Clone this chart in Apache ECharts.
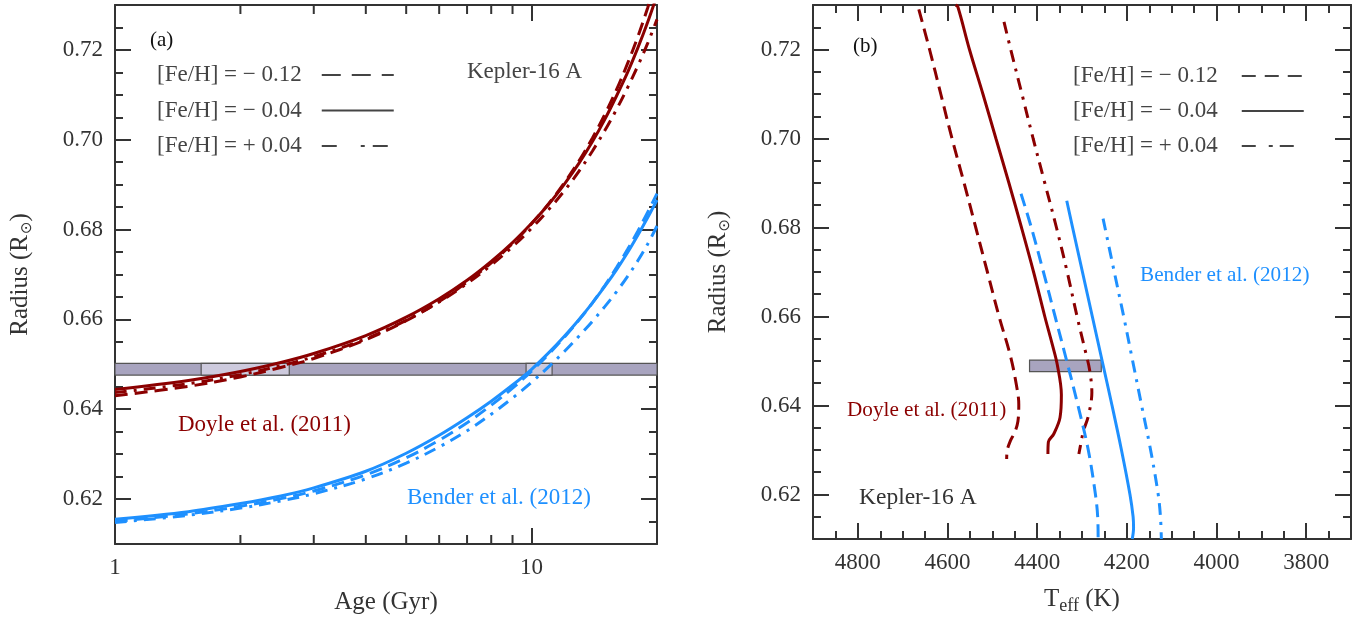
<!DOCTYPE html>
<html><head><meta charset="utf-8">
<script src="https://cdn.jsdelivr.net/npm/echarts@6/dist/echarts.min.js"></script>
<style>html,body{margin:0;padding:0;background:#fff}#c{width:1369px;height:620px}</style>
</head><body><div id="c"></div>
<script>
// ---------- Panel (a): radius vs age ----------
const ageGyr = [1, 1.5, 2, 2.5, 3, 4, 5, 6, 7, 8, 9, 10, 11, 12, 13, 14, 15, 16, 17, 18, 19, 20];
const doyleRadiusFeM012 = [0.6430, 0.6451, 0.6472, 0.6493, 0.6513, 0.6555, 0.6597, 0.6640, 0.6683, 0.6726, 0.6769, 0.6813, 0.6858, 0.6905, 0.6953, 0.7004, 0.7057, 0.7112, 0.7170, 0.7230, 0.7294, 0.7360];
const doyleRadiusFeM004 = [0.6444, 0.6464, 0.6484, 0.6504, 0.6524, 0.6564, 0.6605, 0.6646, 0.6687, 0.6729, 0.6771, 0.6814, 0.6857, 0.6902, 0.6948, 0.6996, 0.7046, 0.7098, 0.7150, 0.7205, 0.7262, 0.7322];
const doyleRadiusFeP004 = [0.6437, 0.6457, 0.6477, 0.6497, 0.6517, 0.6557, 0.6598, 0.6639, 0.6680, 0.6721, 0.6762, 0.6803, 0.6845, 0.6887, 0.6930, 0.6975, 0.7021, 0.7068, 0.7116, 0.7165, 0.7215, 0.7268];
const benderRadiusFeM012 = [0.6150, 0.6167, 0.6184, 0.6201, 0.6218, 0.6254, 0.6292, 0.6331, 0.6370, 0.6409, 0.6447, 0.6485, 0.6523, 0.6561, 0.6599, 0.6637, 0.6676, 0.6716, 0.6756, 0.6797, 0.6839, 0.6880];
const benderRadiusFeM004 = [0.6155, 0.6172, 0.6190, 0.6207, 0.6225, 0.6262, 0.6302, 0.6342, 0.6381, 0.6418, 0.6454, 0.6489, 0.6526, 0.6563, 0.6600, 0.6637, 0.6674, 0.6711, 0.6749, 0.6788, 0.6827, 0.6866];
const benderRadiusFeP004 = [0.6148, 0.6164, 0.6180, 0.6196, 0.6212, 0.6245, 0.6280, 0.6316, 0.6352, 0.6389, 0.6425, 0.6460, 0.6495, 0.6529, 0.6563, 0.6596, 0.6629, 0.6662, 0.6696, 0.6731, 0.6768, 0.6808];

// observed radius band and highlighted age ranges
const bandRadius = [0.6476, 0.6502];
const bandAgeFull = [1, 20];
const bandAgeLight = [[1.61, 2.62], [9.7, 11.2]];
const bandTeff = [4417, 4257];

// ---------- Panel (b): radius vs Teff ----------
const doyleTrackM012R = [0.729, 0.72, 0.71, 0.70, 0.69, 0.68, 0.67, 0.66, 0.6513, 0.645, 0.6402, 0.6364, 0.634, 0.632, 0.6298, 0.628];
const doyleTrackM012T = [4664, 4640, 4615, 4590, 4563, 4537, 4511, 4485, 4460, 4447, 4441, 4443, 4450, 4460, 4467, 4468];
const doyleTrackM004R = [0.7300, 0.7296, 0.72, 0.71, 0.70, 0.69, 0.68, 0.67, 0.66, 0.6536, 0.6491, 0.6424, 0.6373, 0.6336, 0.6318, 0.6291];
const doyleTrackM004T = [4582, 4577, 4551, 4521, 4492, 4463, 4435, 4408, 4383, 4366, 4355, 4346, 4349, 4363, 4375, 4376];
const doyleTrackP004R = [0.7262, 0.72, 0.71, 0.70, 0.69, 0.68, 0.67, 0.66, 0.652, 0.648, 0.6429, 0.6376, 0.6342, 0.6307, 0.6291];
const doyleTrackP004T = [4474, 4459, 4434, 4409, 4383, 4357, 4333, 4311, 4292, 4283, 4278, 4286, 4297, 4304, 4307];
const benderTrackM012R = [0.6876, 0.68, 0.67, 0.66, 0.65, 0.64, 0.63, 0.62, 0.615, 0.61];
const benderTrackM012T = [4436, 4413, 4386, 4360, 4334, 4309, 4286, 4270, 4265, 4264];
const benderTrackM004R = [0.686, 0.68, 0.67, 0.66, 0.65, 0.64, 0.63, 0.62, 0.615, 0.6125, 0.61];
const benderTrackM004T = [4334, 4321, 4299, 4277, 4255, 4233, 4212, 4193, 4186, 4185, 4188];
const benderTrackP004R = [0.682, 0.67, 0.66, 0.65, 0.64, 0.63, 0.62, 0.615, 0.61];
const benderTrackP004T = [4253, 4228, 4207, 4187, 4167, 4147, 4130, 4125, 4123];

// ---------- ticks & labels ----------
const ageMinorTicks = [2, 3, 4, 5, 6, 7, 8, 9];
const ageLabels = [1, 10];
const radiusMajorTicks = [0.62, 0.64, 0.66, 0.68, 0.70, 0.72];
const radiusMinorTicks = [0.615, 0.625, 0.63, 0.635, 0.645, 0.65, 0.655, 0.665, 0.67, 0.675, 0.685, 0.69, 0.695, 0.705, 0.71, 0.715, 0.725];
const teffMajorTicks = [3800, 4000, 4200, 4400, 4600, 4800];
const teffMinorTicks = [3750, 3850, 3900, 3950, 4050, 4100, 4150, 4250, 4300, 4350, 4450, 4500, 4550, 4650, 4700, 4750, 4850];
const legendNames = ['[Fe/H] = \u2212 0.12', '[Fe/H] = \u2212 0.04', '[Fe/H] = + 0.04'];

const SERIF = '"Liberation Serif", "DejaVu Serif", serif';
const RED = '#8b0000', BLUE = '#1e90ff', AXC = '#333';
const DASH = [13, 7], DASHDOT = [12, 7, 3, 7];
const R_MIN = 0.61, R_MAX = 0.73;
const TICK_FONT = 23, NAME_FONT = 25;

function zip(a, b) { return a.map((v, i) => [v, b[i]]); }

function axisCommon(extra) {
  return Object.assign({
    splitLine: { show: false },
    axisLine: { show: true, onZero: false, lineStyle: { color: AXC, width: 2 } },
    axisTick: { show: true, inside: true, length: 16, lineStyle: { color: AXC, width: 2 } },
    axisLabel: { show: false },
    nameTextStyle: { fontFamily: SERIF, fontSize: NAME_FONT, color: AXC }
  }, extra);
}
const labelStyle = { fontFamily: SERIF, fontSize: TICK_FONT, color: AXC, margin: 12 };

function radiusAxes(grid) {
  return [
    axisCommon({ type: 'value', gridIndex: grid, position: 'left', min: R_MIN, max: R_MAX,
      axisTick: { show: true, inside: true, length: 16, customValues: radiusMajorTicks, lineStyle: { color: AXC, width: 2 } },
      axisLabel: Object.assign({ show: true, customValues: radiusMajorTicks, formatter: v => v.toFixed(2) }, labelStyle),
      name: 'Radius (R{s|\u2299})', nameLocation: 'middle', nameGap: 80, nameRotate: 90,
      nameTextStyle: { fontFamily: SERIF, fontSize: NAME_FONT, color: AXC,
        rich: { s: { fontFamily: '"DejaVu Sans", sans-serif', fontSize: 15, color: AXC, padding: [14, 0, 0, 1] } } } }),
    axisCommon({ type: 'value', gridIndex: grid, position: 'left', min: R_MIN, max: R_MAX,
      axisLine: { show: false },
      axisTick: { show: true, inside: true, length: 8, customValues: radiusMinorTicks, lineStyle: { color: AXC, width: 2 } } }),
    axisCommon({ type: 'value', gridIndex: grid, position: 'right', min: R_MIN, max: R_MAX,
      axisTick: { show: true, inside: true, length: 16, customValues: radiusMajorTicks, lineStyle: { color: AXC, width: 2 } } }),
    axisCommon({ type: 'value', gridIndex: grid, position: 'right', min: R_MIN, max: R_MAX,
      axisLine: { show: false },
      axisTick: { show: true, inside: true, length: 8, customValues: radiusMinorTicks, lineStyle: { color: AXC, width: 2 } } })
  ];
}

const isLabelAge = v => ageLabels.some(a => Math.abs(a - v) < 1e-6);

const xAxes = [
  axisCommon({ type: 'log', logBase: 10, gridIndex: 0, position: 'bottom', min: 1, max: 20,
    axisLabel: Object.assign({ show: true, formatter: v => isLabelAge(v) ? String(Math.round(v)) : '' }, labelStyle),
    name: 'Age (Gyr)', nameLocation: 'middle', nameGap: 46 }),
  axisCommon({ type: 'log', logBase: 10, gridIndex: 0, position: 'top', min: 1, max: 20 }),
  axisCommon({ type: 'value', gridIndex: 1, position: 'bottom', min: 3700, max: 4900, inverse: true,
    axisTick: { show: true, inside: true, length: 16, customValues: teffMajorTicks, lineStyle: { color: AXC, width: 2 } },
    axisLabel: Object.assign({ show: true, customValues: teffMajorTicks, formatter: v => String(Math.round(v)) }, labelStyle),
    name: 'T{s|eff} (K)', nameLocation: 'middle', nameGap: 45,
    nameTextStyle: { fontFamily: SERIF, fontSize: NAME_FONT, color: AXC,
      rich: { s: { fontFamily: SERIF, fontSize: 18, color: AXC, padding: [13, 0, 0, 0] } } } }),
  axisCommon({ type: 'value', gridIndex: 1, position: 'bottom', min: 3700, max: 4900, inverse: true,
    axisLine: { show: false },
    axisTick: { show: true, inside: true, length: 8, customValues: teffMinorTicks, lineStyle: { color: AXC, width: 2 } } }),
  axisCommon({ type: 'value', gridIndex: 1, position: 'top', min: 3700, max: 4900, inverse: true,
    axisTick: { show: true, inside: true, length: 16, customValues: teffMajorTicks, lineStyle: { color: AXC, width: 2 } } }),
  axisCommon({ type: 'value', gridIndex: 1, position: 'top', min: 3700, max: 4900, inverse: true,
    axisLine: { show: false },
    axisTick: { show: true, inside: true, length: 8, customValues: teffMinorTicks, lineStyle: { color: AXC, width: 2 } } })
];
const yAxes = radiusAxes(0).concat(radiusAxes(1));

function bandRender(params, api) {
  const a = api.coord([api.value(0), api.value(3)]);
  const b = api.coord([api.value(1), api.value(2)]);
  return { type: 'rect',
    shape: { x: Math.min(a[0], b[0]), y: Math.min(a[1], b[1]), width: Math.abs(b[0] - a[0]), height: Math.abs(b[1] - a[1]) },
    style: { fill: api.value(4) ? '#cdcadd' : '#a8a4bf', stroke: '#555', lineWidth: 1.2 } };
}

function curve(name, data, color, dash, xi, yi) {
  return { type: 'line', name: name + '_' + xi, data: data, xAxisIndex: xi, yAxisIndex: yi,
    showSymbol: false, symbol: 'none', smooth: 0.35, z: 5, silent: true,
    lineStyle: { color: color, width: 3, type: dash }, itemStyle: { color: color } };
}

const bandDataA = [[bandAgeFull[0], bandAgeFull[1], bandRadius[0], bandRadius[1], 0]]
  .concat(bandAgeLight.map(r => [r[0], r[1], bandRadius[0], bandRadius[1], 1]));
const bandDataB = [[bandTeff[0], bandTeff[1], bandRadius[0], bandRadius[1], 0]];

const series = [
  { type: 'custom', name: 'bandA', xAxisIndex: 0, yAxisIndex: 0, silent: true, z: 1,
    encode: { x: [0, 1], y: [2, 3] }, data: bandDataA, renderItem: bandRender },
  { type: 'custom', name: 'ageMinor', xAxisIndex: 0, yAxisIndex: 0, silent: true, z: 10, clip: false,
    encode: { x: 0, y: 1 }, data: ageMinorTicks.map(a => [a, R_MIN]),
    renderItem: function (params, api) {
      const b = api.coord([api.value(0), R_MIN]);
      const t = api.coord([api.value(0), R_MAX]);
      return { type: 'group', children: [
        { type: 'line', shape: { x1: b[0], y1: b[1], x2: b[0], y2: b[1] - 9 }, style: { stroke: AXC, lineWidth: 2 } },
        { type: 'line', shape: { x1: t[0], y1: t[1], x2: t[0], y2: t[1] + 9 }, style: { stroke: AXC, lineWidth: 2 } }
      ] };
    } },
  curve('doyleM012', zip(ageGyr, doyleRadiusFeM012), RED, DASH, 0, 0),
  curve('doyleM004', zip(ageGyr, doyleRadiusFeM004), RED, 'solid', 0, 0),
  curve('doyleP004', zip(ageGyr, doyleRadiusFeP004), RED, DASHDOT, 0, 0),
  curve('benderM012', zip(ageGyr, benderRadiusFeM012), BLUE, DASH, 0, 0),
  curve('benderM004', zip(ageGyr, benderRadiusFeM004), BLUE, 'solid', 0, 0),
  curve('benderP004', zip(ageGyr, benderRadiusFeP004), BLUE, DASHDOT, 0, 0),
  { type: 'custom', name: 'bandB', xAxisIndex: 2, yAxisIndex: 4, silent: true, z: 1,
    encode: { x: [0, 1], y: [2, 3] }, data: bandDataB, renderItem: bandRender },
  curve('doyleM012', zip(doyleTrackM012T, doyleTrackM012R), RED, DASH, 2, 4),
  curve('doyleM004', zip(doyleTrackM004T, doyleTrackM004R), RED, 'solid', 2, 4),
  curve('doyleP004', zip(doyleTrackP004T, doyleTrackP004R), RED, DASHDOT, 2, 4),
  curve('benderM012', zip(benderTrackM012T, benderTrackM012R), BLUE, DASH, 2, 4),
  curve('benderM004', zip(benderTrackM004T, benderTrackM004R), BLUE, 'solid', 2, 4),
  curve('benderP004', zip(benderTrackP004T, benderTrackP004R), BLUE, DASHDOT, 2, 4),
  { type: 'line', name: legendNames[0], data: [], xAxisIndex: 0, yAxisIndex: 0, symbol: 'none',
    lineStyle: { color: '#444', width: 2.5, type: [19, 11] }, itemStyle: { color: '#444' } },
  { type: 'line', name: legendNames[1], data: [], xAxisIndex: 0, yAxisIndex: 0, symbol: 'none',
    lineStyle: { color: '#444', width: 2.5, type: 'solid' }, itemStyle: { color: '#444' } },
  { type: 'line', name: legendNames[2], data: [], xAxisIndex: 0, yAxisIndex: 0, symbol: 'none',
    lineStyle: { color: '#444', width: 2.5, type: [15, 24, 4, 8] }, itemStyle: { color: '#444' } }
];

const legendText = { fontFamily: SERIF, fontSize: 23, color: '#444', lineHeight: 25, padding: [0, 15, 0, 0] };
const legends = [
  { left: 152, top: 57.5, orient: 'vertical', align: 'right', itemWidth: 72, itemHeight: 14, itemGap: 10.5,
    selectedMode: false, data: legendNames, textStyle: legendText, itemStyle: { opacity: 0 } },
  { left: 1068, top: 58.5, orient: 'vertical', align: 'right', itemWidth: 62, itemHeight: 14, itemGap: 10,
    selectedMode: false, itemStyle: { opacity: 0 },
    data: legendNames.map((n, i) => ({ name: n, lineStyle: { type: [[14, 9], 'solid', [14, 13, 4, 7]][i] } })),
    textStyle: Object.assign({}, legendText, { padding: [0, 19, 0, 0] }) }
];

function txt(x, y, s, size, color) {
  return { type: 'text', x: x, y: y, silent: true, z: 20,
    style: { text: s, font: size + 'px ' + SERIF, fill: color, verticalAlign: 'middle', align: 'left' } };
}

const graphics = [
  txt(150, 40, '(a)', 21, '#111'),
  txt(467, 72, 'Kepler-16 A', 23, '#444'),
  txt(178, 425, 'Doyle et al. (2011)', 23, RED),
  txt(407, 498, 'Bender et al. (2012)', 23, BLUE),
  txt(853, 46, '(b)', 21, '#111'),
  txt(1140, 275, 'Bender et al. (2012)', 21.2, BLUE),
  txt(847, 410, 'Doyle et al. (2011)', 21.2, RED),
  txt(859, 498, 'Kepler-16 A', 23.5, '#333')
];

const chart = echarts.init(document.getElementById('c'), null, { renderer: 'canvas' });
chart.setOption({
  animation: false,
  backgroundColor: '#fff',
  grid: [
    { left: 115, top: 5, width: 542, height: 541 },
    { left: 813, top: 5, width: 538, height: 540 }
  ],
  xAxis: xAxes,
  yAxis: yAxes,
  legend: legends,
  series: series,
  graphic: graphics
});
</script></body></html>
